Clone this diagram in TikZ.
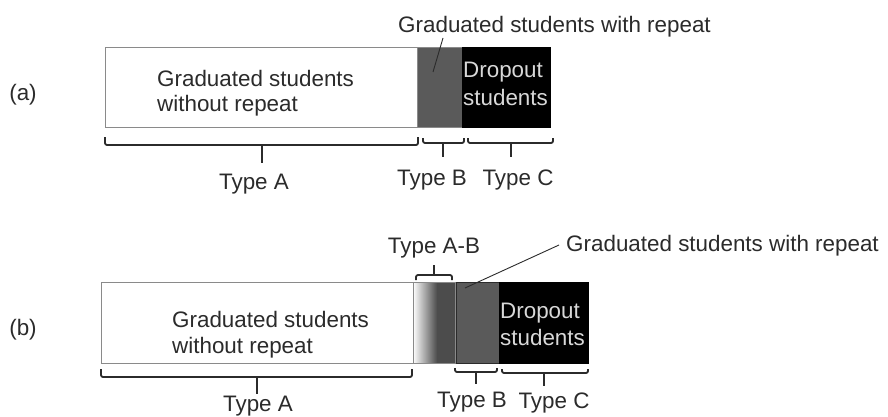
\documentclass[tikz,border=0pt]{standalone}
\usepackage{fontspec}
\setmainfont{Liberation Sans}
\definecolor{ink}{HTML}{2B2B2B}
\definecolor{edge}{HTML}{8A8A8A}
\definecolor{midg}{HTML}{5A5A5A}
\definecolor{darkg}{HTML}{4C4C4C}
\definecolor{pale}{HTML}{D8D8D8}
\begin{document}
\begin{tikzpicture}[x=1pt,y=-1pt,
  txt/.style={inner sep=0pt, anchor=base west, text=ink, font=\fontsize{22.4}{26}\selectfont},
  ctxt/.style={txt, anchor=base},
  wtxt/.style={txt, text=pale},
  brc/.style={line width=1.8pt, draw=ink, rounded corners=2pt},
  seg/.style={draw=edge, line width=0.8pt, inner sep=0pt, anchor=north west},
  lead/.style={draw=ink, line width=0.9pt}]
\useasboundingbox (0,0) rectangle (888,417);
\fill[white] (0,0) rectangle (888,417);

% ---------------- (a) ----------------
\node[ctxt] (la) at (23,101) {(a)};
\node[seg, fill=white, minimum width=312pt, minimum height=80pt] (aw) at (105,47) {};
\node[seg, fill=midg, minimum width=45pt, minimum height=80pt] (ag) at (417,47) {};
\node[seg, draw=black, fill=black, minimum width=88pt, minimum height=80pt] (ab) at (462,47) {};
\node[txt] (awt1) at (157,87) {Graduated students};
\node[txt] (awt2) at (157,112) {without repeat};
\node[wtxt] (abt1) at (463,78) {Dropout};
\node[wtxt] (abt2) at (463,106) {students};
\node[txt] (agl) at (398,33) {Graduated students with repeat};
\coordinate (agp) at (433,72);
\draw[lead] (443,38) -- (agp);

\draw[brc] (105,137) -- (105,145) -- (418,145) -- (418,137);
\coordinate (aA) at (262,163);
\draw[brc] (262,145) -- (aA);
\draw[brc] (423,138) -- (423,143) -- (464,143) -- (464,138);
\coordinate (aB) at (443,157);
\draw[brc] (443,143) -- (aB);
\draw[brc] (468,138) -- (468,143) -- (553,143) -- (553,138);
\coordinate (aC) at (511,157);
\draw[brc] (511,143) -- (aC);
\node[ctxt] (aTA) at (254,189) {Type A};
\node[ctxt] (aTB) at (432,185) {Type B};
\node[ctxt] (aTC) at (518,185) {Type C};

% ---------------- (b) ----------------
\node[ctxt] (lb) at (23,335) {(b)};
\node[seg, fill=white, minimum width=312pt, minimum height=81pt] (bw) at (101,282) {};
\fill[darkg] (413,282) rectangle (455,363);
\shade[left color=white, right color=darkg] (413,282) rectangle (437,363);
\node[seg, minimum width=42pt, minimum height=81pt] (bab) at (413,282) {};
\node[seg, draw=ink, fill=midg, minimum width=43pt, minimum height=81pt] (bg) at (456,282) {};
\node[seg, draw=black, fill=black, minimum width=89pt, minimum height=81pt] (bb) at (499,282) {};
\node[txt] (bwt1) at (172,327) {Graduated students};
\node[txt] (bwt2) at (172,353) {without repeat};
\node[wtxt] (bbt1) at (500,318) {Dropout};
\node[wtxt] (bbt2) at (500,345) {students};
\node[txt] (bgl) at (566,251) {Graduated students with repeat};
\coordinate (bgp) at (465,288);
\draw[lead] (559,245) -- (bgp);

\node[ctxt] (bTAB) at (434,253) {Type A-B};
\draw[brc] (416,280) -- (416,275) -- (452,275) -- (452,280);
\coordinate (bAB) at (434,265);
\draw[brc] (434,275) -- (bAB);

\draw[brc] (101,369) -- (101,377) -- (412,377) -- (412,369);
\coordinate (bA) at (257,394);
\draw[brc] (257,377) -- (bA);
\draw[brc] (455,368) -- (455,372) -- (497,372) -- (497,368);
\coordinate (bB) at (476,384);
\draw[brc] (476,372) -- (bB);
\draw[brc] (502,369) -- (502,373) -- (588,373) -- (588,369);
\coordinate (bC) at (544,386);
\draw[brc] (544,373) -- (bC);
\node[ctxt] (bTA) at (258,411) {Type A};
\node[ctxt] (bTB) at (472,407) {Type B};
\node[ctxt] (bTC) at (554,408) {Type C};
\end{tikzpicture}
\end{document}
